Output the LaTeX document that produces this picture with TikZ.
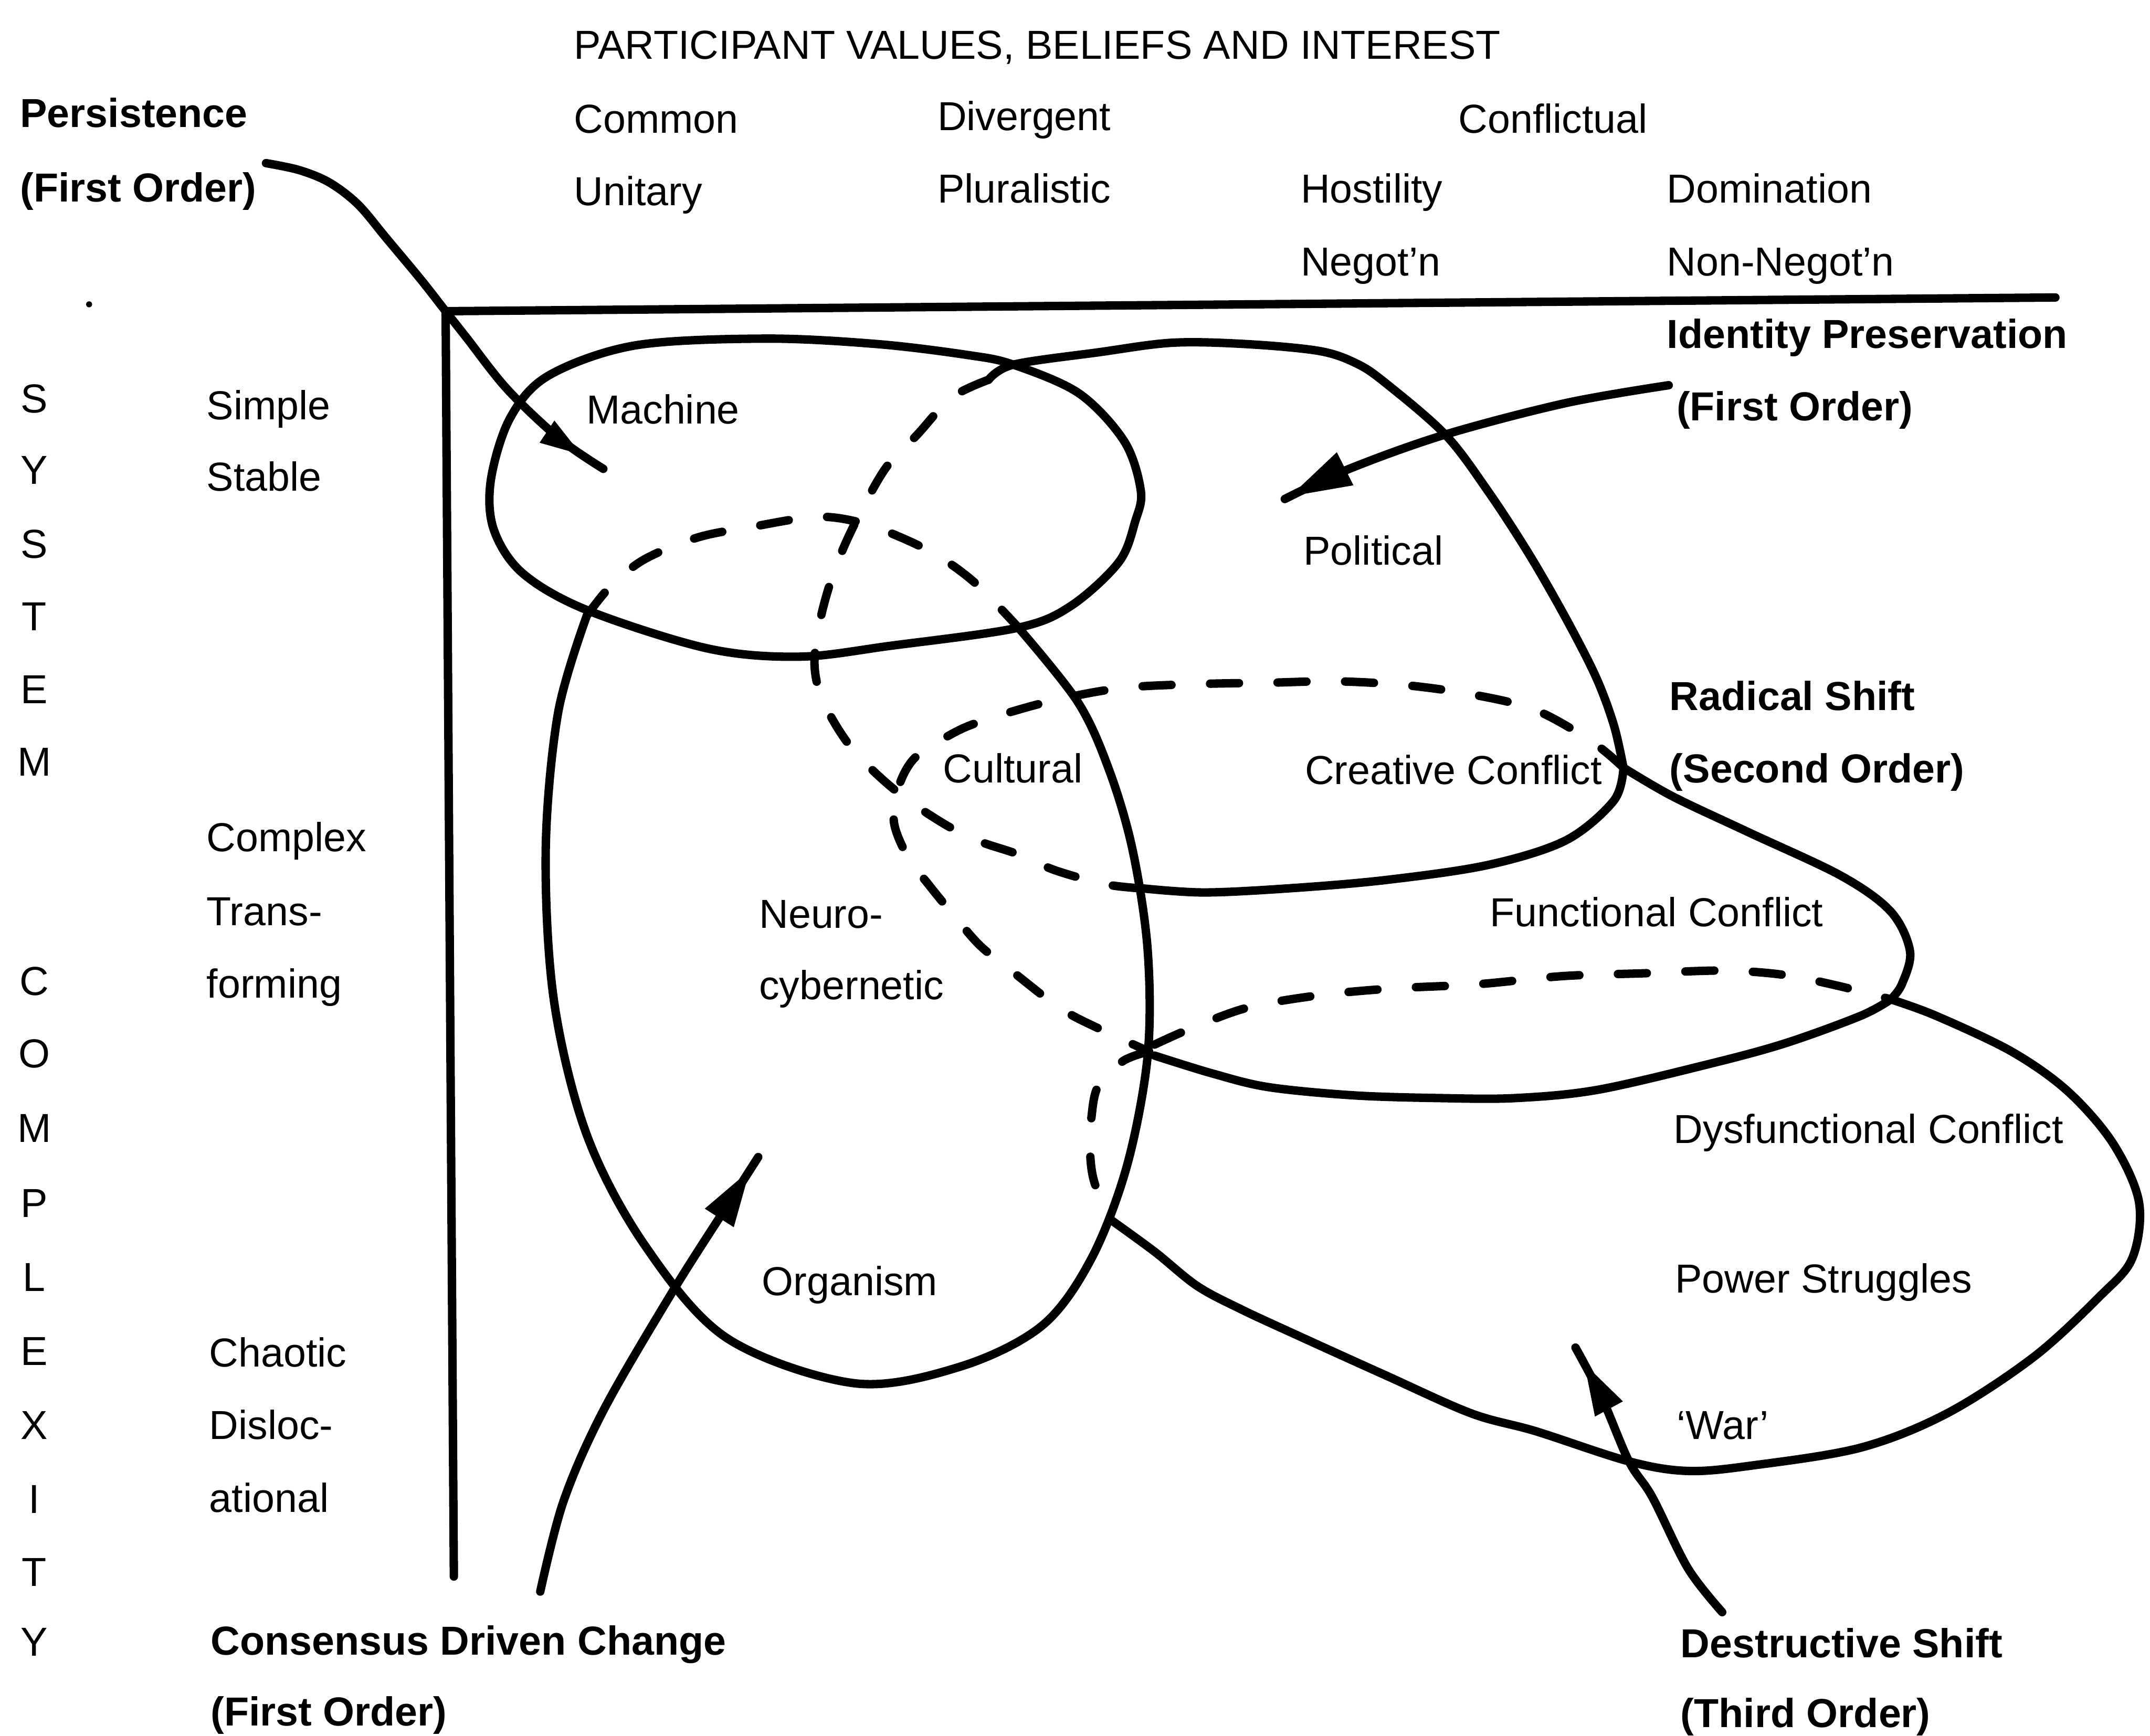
\documentclass[tikz,border=0pt]{standalone}
\usepackage{fontspec}
\setmainfont{Liberation Sans}
\usetikzlibrary{arrows.meta,decorations.markings}

\begin{document}
\begin{tikzpicture}[x=0.01cm,y=-0.01cm,
  txt/.style={anchor=base west,inner sep=0pt,font=\fontsize{8.4}{10}\selectfont},
  btxt/.style={anchor=base west,inner sep=0pt,font=\fontsize{8.4}{10}\selectfont\bfseries},
  axisletter/.style={anchor=base,inner sep=0pt,font=\fontsize{8.4}{10}\selectfont},
  curve/.style={line width=1.75pt,line cap=round,line join=round},
  hidden/.style={curve,dash pattern=on 6pt off 8pt},
  tipat/.style 2 args={postaction={decorate},
    decoration={markings,mark=at position #1 with {\arrow{Triangle[length=#2,width=0.55*#2]}}}},
]
\useasboundingbox (0,0) rectangle (1568,1266);

% ---------- axes ----------
\coordinate (origin) at (325,227);
\coordinate (xend) at (1499,217);
\coordinate (yend) at (331,1150);
\draw[curve] (origin) -- (xend);
\draw[curve] (origin) -- (yend);
\fill (65,222) circle (2.2);

% ---------- headings ----------
\node[txt] (head) at (418,43) {PARTICIPANT VALUES, BELIEFS AND INTEREST};
\node[btxt] (pers1) at (14,93) {Persistence};
\node[btxt] (pers2) at (14,147) {(First Order)};
\node[txt] (common) at (418,97) {Common};
\node[txt] (divergent) at (683,95) {Divergent};
\node[txt] (conflictual) at (1063,97) {Conflictual};
\node[txt] (unitary) at (418,150) {Unitary};
\node[txt] (pluralistic) at (683,148) {Pluralistic};
\node[txt] (hostility) at (948,148) {Hostility};
\node[txt] (domination) at (1215,148) {Domination};
\node[txt] (negotn) at (948,201) {Negot’n};
\node[txt] (nonnegotn) at (1215,201) {Non-Negot’n};
\node[btxt] (ident1) at (1215,254) {Identity Preservation};
\node[btxt] (ident2) at (1222,307) {(First Order)};

% ---------- vertical axis title ----------
\foreach \ch/\yy [count=\i] in {S/301,Y/353,S/407,T/460,E/513,M/566,
  C/726,O/779,M/833,P/888,L/942,E/996,X/1050,I/1104,T/1157,Y/1208}
  \node[axisletter] (vl\i) at (25,\yy) {\ch};

\node[txt] (simple) at (150,306) {Simple};
\node[txt] (stable) at (150,358) {Stable};
\node[txt] (complex) at (150,621) {Complex};
\node[txt] (trans) at (150,675) {Trans-};
\node[txt] (forming) at (150,728) {forming};
\node[txt] (chaotic) at (152,997) {Chaotic};
\node[txt] (disloc) at (152,1050) {Disloc-};
\node[txt] (ational) at (152,1103) {ational};

% ---------- region labels ----------
\node[txt] (machine) at (427,309) {Machine};
\node[txt] (political) at (950,412) {Political};
\node[txt] (cultural) at (687,571) {Cultural};
\node[txt] (creative) at (951,572) {Creative Conflict};
\node[btxt] (radical1) at (1217,518) {Radical Shift};
\node[btxt] (radical2) at (1217,571) {(Second Order)};
\node[txt] (neuro1) at (553,677) {Neuro-};
\node[txt] (neuro2) at (553,729) {cybernetic};
\node[txt] (functional) at (1086,676) {Functional Conflict};
\node[txt] (dysfunctional) at (1220,834) {Dysfunctional Conflict};
\node[txt] (organism) at (555,945) {Organism};
\node[txt] (power) at (1221,943) {Power Struggles};
\node[txt] (war) at (1222,1050) {‘War’};
\node[btxt] (cons1) at (153,1207) {Consensus Driven Change};
\node[btxt] (cons2) at (153,1259) {(First Order)};
\node[btxt] (destr1) at (1225,1209) {Destructive Shift};
\node[btxt] (destr2) at (1225,1260) {(Third Order)};

% ---------- machine ellipse ----------
\draw[curve] plot[smooth cycle,tension=0.55] coordinates {
  (463,252) (558,247) (640,251) (706,259) (739,266) (787,287) (820,322)
  (832,358) (828,380) (816,410) (781,442) (742,458) (650,471) (583,479)
  (516,473) (428,445) (381,418) (360,386) (358,350) (372,305) (400,274)};

% ---------- organism / neuro-cybernetic ellipse (visible part) ----------
\draw[curve] plot[smooth,tension=0.55] coordinates {
  (428,449) (407,520) (398,620) (404,730) (428,828) (470,908) (530,976)
  (623,1009) (700,997) (760,967) (796,918) (822,850) (837,770) (837,693)
  (826,620) (809,562) (786,512) (742,457)};
% hidden top of the organism ellipse
\draw[hidden] plot[smooth,tension=0.55] coordinates {
  (428,449) (445,428) (470,408) (509,392) (550,384) (595,377) (627,381)
  (657,392) (685,406) (712,426) (742,457)};

% ---------- political region ----------
\draw[curve] plot[smooth,tension=0.55] coordinates {
  (721,277) (739,266) (801,257) (855,250) (909,251) (962,256) (989,265)
  (1010,279) (1054,317) (1085,358) (1115,404) (1142,451) (1164,494)
  (1177,529) (1184,560)};
\draw[hidden] plot[smooth,tension=0.55] coordinates {
  (721,277) (694,290) (669,317) (647,340) (630,369) (615,400) (604,430)
  (597,458) (594,484) (598,506) (609,528) (623,548) (643,568) (664,585)
  (692,603) (715,614) (742,623) (770,635) (806,645) (832,648)};

% ---------- creative conflict / cultural ellipse ----------
\draw[curve] plot[smooth,tension=0.55] coordinates {
  (1184,560) (1177,584) (1142,613) (1085,631) (1010,642) (940,648) (878,651) (833,648)};
\draw[hidden] plot[smooth,tension=0.55] coordinates {
  (1184,560) (1161,541) (1120,518) (1076,507) (1027,500) (975,497)
  (926,498) (873,499) (817,502) (764,512) (716,526) (693,536) (667,553)
  (655,575) (652,600) (662,625) (677,645) (695,667) (715,690) (740,710)
  (774,736) (805,752) (838,767)};

% ---------- functional conflict ellipse ----------
\draw[curve] plot[smooth,tension=0.55] coordinates {
  (1184,560) (1220,581) (1275,607) (1343,639) (1379,665) (1393,694)
  (1387,718) (1379,729)};
\draw[curve] plot[smooth,tension=0.55] coordinates {
  (1379,729) (1357,741) (1302,761) (1247,776) (1165,795) (1105,801)
  (1050,801) (987,799) (925,793) (884,783) (842,770)};
\draw[hidden] plot[smooth,tension=0.55] coordinates {
  (842,762) (869,750) (910,735) (962,726) (1016,721) (1077,718)
  (1140,712) (1198,710) (1256,708) (1300,711) (1340,719) (1379,729)};

% ---------- dysfunctional conflict ellipse ----------
\draw[curve] plot[smooth,tension=0.55] coordinates {
  (1379,729) (1412,741) (1467,767) (1508,796) (1541,834) (1560,877)
  (1555,918) (1531,946) (1483,990) (1420,1031) (1357,1056) (1278,1069)
  (1231,1073) (1188,1066) (1120,1044) (1073,1031) (1010,1003) (946,974)
  (905,955) (873,938) (842,913) (809,889)};
\draw[hidden] plot[smooth,tension=0.55] coordinates {
  (838,767) (819,774) (801,792) (796,815) (795,840) (798,862) (809,889)};

% ---------- change arrows ----------
\coordinate (persS) at (194,119);
\coordinate (persE) at (440,342);
\draw[curve,tipat={-5pt}{9pt}] plot[smooth,tension=0.55] coordinates {
  (persS) (218,124) (240,133) (261,149) (282,174) (307,204) (325,227)
  (340,246) (370,284) (408,320) (persE)};

\coordinate (identS) at (1217,281);
\coordinate (identE) at (937,364);
\draw[curve,tipat={-1pt}{13pt}] plot[smooth,tension=0.55] coordinates {
  (identS) (1142,294) (1054,317) (984,342) (identE)};

\coordinate (consS) at (394,1161);
\coordinate (consE) at (553,844);
\draw[curve,tipat={-3pt}{12pt}] plot[smooth,tension=0.55] coordinates {
  (consS) (411,1095) (440,1029) (490,943) (530,880) (consE)};

\coordinate (destrS) at (1256,1176);
\coordinate (destrE) at (1149,983);
\draw[curve,tipat={-3.5pt}{11pt}] plot[smooth,tension=0.55] coordinates {
  (destrS) (1231,1144) (1205,1092) (1188,1066) (1168,1019) (destrE)};

\end{tikzpicture}
\end{document}
